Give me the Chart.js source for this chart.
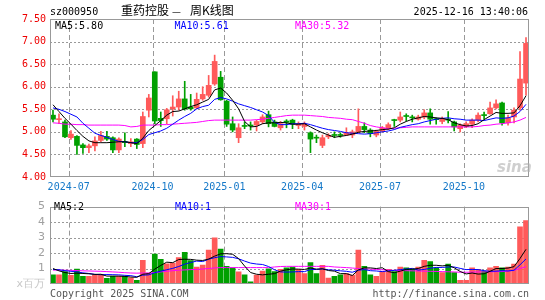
<!DOCTYPE html>
<html>
<head>
<meta charset="utf-8">
<script src="https://cdn.jsdelivr.net/npm/chart.js@4"></script>
<style>
html, body { margin: 0; padding: 0; background: #fff; }
#wrap { position: relative; width: 545px; height: 300px; }
#kline { position: absolute; left: 0; top: 0; }
#vol { position: absolute; left: 0; top: 195px; }
</style>
</head>
<body>
<div id="wrap">
  <canvas id="kline" width="545" height="195"></canvas>
  <canvas id="vol" width="545" height="105"></canvas>
</div>
<script>
// weekly k-line, sz000950
const open = [5.37,5.27,5.22,4.87,4.90,4.71,4.65,4.69,4.81,4.90, 4.87,4.60,4.79,4.74,4.84,4.74,5.48,6.33,5.30,5.29,
              5.51,5.55,5.73,5.55,5.53,5.73,5.81,6.06,6.21,5.68, 5.18,4.87,5.14,5.15,5.15,5.22,5.38,5.22,5.09,5.24,
              5.26,5.14,5.12,4.98,4.88,4.70,4.89,4.94,4.94,4.93, 4.93,5.00,5.12,5.04,4.93,5.02,5.07,5.27,5.26,5.36,
              5.33,5.28,5.33,5.42,5.29,5.23,5.28,5.22,5.07,5.12, 5.17,5.26,5.38,5.40,5.53,5.64,5.20,5.33,5.53,6.08];
const close = [5.28,5.29,4.89,4.95,4.70,4.65,4.69,4.80,4.92,4.84, 4.60,4.84,4.76,4.78,4.72,5.34,5.75,5.24,5.25,5.49,
               5.55,5.73,5.51,5.51,5.72,5.83,6.03,6.56,5.71,5.17, 5.04,5.09,5.12,5.13,5.23,5.33,5.18,5.12,5.18,5.21,
               5.17,5.17,5.17,4.84,4.86,4.87,4.92,4.92,4.92,4.98, 5.00,5.12,5.05,4.96,5.01,5.09,5.16,5.25,5.33,5.34,
               5.31,5.33,5.42,5.28,5.27,5.29,5.26,5.11,5.15,5.18, 5.26,5.37,5.36,5.53,5.62,5.20,5.31,5.48,6.17,6.96];
const high = [5.48,5.40,5.26,5.03,4.92,4.74,4.73,4.89,5.01,5.01, 4.89,4.87,4.98,4.85,4.85,5.44,5.83,6.33,5.44,5.52,
              5.80,5.90,6.12,5.83,5.86,6.00,6.25,6.70,6.34,5.70, 5.33,5.18,5.22,5.22,5.26,5.38,5.46,5.26,5.23,5.27,
              5.28,5.22,5.22,5.00,4.93,4.93,4.96,5.00,4.98,5.09, 5.04,5.51,5.20,5.07,5.04,5.12,5.20,5.28,5.44,5.40,
              5.37,5.37,5.49,5.51,5.31,5.33,5.45,5.24,5.18,5.22, 5.29,5.42,5.44,5.66,5.71,5.66,5.37,5.53,6.78,7.09];
const low = [5.22,5.18,4.87,4.83,4.50,4.52,4.54,4.58,4.78,4.81, 4.54,4.54,4.67,4.67,4.63,4.65,5.33,5.18,5.12,5.18,
             5.35,5.48,5.48,5.48,5.51,5.70,5.77,6.03,5.70,5.12, 5.00,4.76,5.07,5.04,5.02,5.18,5.11,5.11,5.04,5.09,
             5.07,5.07,5.04,4.54,4.76,4.65,4.85,4.87,4.88,4.92, 4.87,4.98,4.98,4.89,4.89,5.00,5.05,5.12,5.22,5.24,
             5.22,5.26,5.29,5.17,5.17,5.18,5.20,5.02,5.00,5.09, 5.09,5.22,5.28,5.39,5.51,5.15,5.15,5.20,5.48,5.81];
const ma5 = [5.60,5.45,5.30,5.17,5.03,4.90,4.80,4.76,4.76,4.76, 4.77,4.78,4.78,4.76,4.74,4.86,5.03,5.14,5.25,5.37,
             5.45,5.46,5.51,5.56,5.60,5.66,5.72,5.93,5.97,5.86, 5.70,5.51,5.23,5.11,5.12,5.18,5.20,5.20,5.21,5.20,
             5.17,5.17,5.18,5.11,5.04,4.98,4.93,4.88,4.90,4.92, 4.95,4.99,5.01,5.02,5.03,5.05,5.06,5.09,5.17,5.23,
             5.28,5.31,5.34,5.33,5.31,5.30,5.27,5.20,5.16,5.13, 5.14,5.18,5.27,5.35,5.43,5.41,5.41,5.42,5.58,5.80];
const ma10 = [5.53,5.50,5.45,5.39,5.33,5.19,5.08,4.97,4.92,4.88, 4.83,4.79,4.78,4.76,4.76,4.83,4.94,4.98,5.02,5.08,
              5.17,5.26,5.34,5.41,5.51,5.56,5.59,5.72,5.76,5.73, 5.68,5.62,5.58,5.54,5.49,5.44,5.36,5.21,5.16,5.16,
              5.18,5.18,5.19,5.16,5.12,5.08,5.05,5.03,5.01,4.98, 4.97,4.96,4.95,4.96,4.98,5.00,5.02,5.05,5.10,5.13,
              5.16,5.18,5.22,5.25,5.28,5.30,5.31,5.29,5.28,5.26, 5.26,5.26,5.25,5.28,5.31,5.30,5.31,5.35,5.45,5.61];
const ma30 = [5.20,5.19,5.17,5.17,5.16,5.16,5.15,5.15,5.15,5.15, 5.15,5.15,5.14,5.11,5.12,5.15,5.15,5.15,5.16,5.16,
              5.17,5.18,5.19,5.20,5.21,5.23,5.25,5.26,5.26,5.26, 5.26,5.26,5.26,5.26,5.27,5.28,5.30,5.32,5.34,5.36,
              5.37,5.37,5.37,5.36,5.35,5.34,5.32,5.31,5.30,5.28, 5.27,5.23,5.19,5.14,5.11,5.09,5.07,5.08,5.09,5.10,
              5.11,5.11,5.11,5.11,5.11,5.11,5.11,5.11,5.11,5.11, 5.11,5.12,5.14,5.15,5.17,5.18,5.20,5.22,5.26,5.32];

// volume, millions of shares
const volume = [0.60,0.60,0.80,0.56,0.96,0.50,0.50,0.60,0.60,0.36, 0.50,0.50,0.50,0.40,0.24,1.53,0.70,1.93,1.59,1.31,
                1.35,1.71,2.05,1.51,1.10,1.22,2.19,2.99,2.25,1.14, 1.04,0.78,0.60,0.14,0.58,0.84,0.98,0.80,0.94,1.04,
                1.10,0.94,0.68,1.39,0.68,1.20,0.38,0.50,0.60,0.68, 0.58,2.19,1.14,0.60,0.50,0.80,0.94,0.80,1.10,1.04,
                0.94,1.10,1.53,1.45,1.04,0.74,1.29,0.74,0.24,0.24, 1.04,0.94,0.84,1.04,1.14,1.04,1.10,1.29,3.69,4.10];
const vma5 = [1.00,0.85,0.74,0.68,0.70,0.68,0.66,0.62,0.63,0.51, 0.51,0.51,0.49,0.45,0.43,0.63,0.67,0.96,1.20,1.41,
              1.38,1.58,1.60,1.59,1.54,1.52,1.61,1.80,1.95,1.96, 1.92,1.64,1.16,0.74,0.63,0.59,0.63,0.67,0.83,0.92,
              0.97,0.96,0.94,1.03,0.96,0.98,0.87,0.83,0.67,0.67, 0.55,0.91,1.04,1.04,1.00,1.05,0.80,0.73,0.83,0.94,
              0.96,1.00,1.14,1.21,1.21,1.17,1.21,1.05,0.81,0.65, 0.71,0.64,0.66,0.82,1.00,1.00,1.03,1.12,1.65,2.24];
const vma10 = [0.94,0.92,0.86,0.82,0.78,0.72,0.68,0.62,0.60,0.61, 0.60,0.59,0.56,0.54,0.47,0.57,0.59,0.73,0.83,0.92,
               1.01,1.13,1.28,1.39,1.48,1.45,1.60,1.70,1.77,1.75, 1.72,1.63,1.48,1.35,1.29,1.26,1.13,0.92,0.78,0.77,
               0.78,0.80,0.80,0.93,0.94,0.98,0.92,0.89,0.85,0.82, 0.76,0.89,0.93,0.86,0.84,0.80,0.85,0.88,0.93,0.97,
               1.01,0.90,0.94,1.02,1.07,1.07,1.10,1.10,1.01,0.93, 0.94,0.93,0.86,0.82,0.83,0.86,0.84,0.89,1.24,1.62];
const vma30 = [0.90,0.90,0.89,0.88,0.87,0.85,0.84,0.83,0.82,0.80, 0.78,0.76,0.73,0.71,0.70,0.71,0.71,0.74,0.78,0.82,
               0.86,0.89,0.91,0.93,0.94,0.97,1.00,1.04,1.06,1.06, 1.06,1.06,1.06,1.06,1.06,1.06,1.06,1.10,1.13,1.14,
               1.14,1.14,1.14,1.14,1.14,1.14,1.14,1.10,1.08,1.06, 1.03,1.00,0.98,0.96,0.94,0.92,0.90,0.88,0.87,0.86,
               0.85,0.84,0.83,0.82,0.81,0.80,0.79,0.78,0.76,0.76, 0.77,0.78,0.78,0.79,0.80,0.80,0.84,0.88,1.00,1.12];

// first week of each labelled month
const tickIdx = [3, 17, 29, 42, 55, 69];
const tickLabels = ['2024-07', '2024-10', '2025-01', '2025-04', '2025-07', '2025-10'];

const RED = '#ff5a5a';
const GREEN = '#00a000';
const GRID = '#999999';
const MONO = 'DejaVu Sans Mono';

const n = open.length;
const colors = close.map((c, i) => c >= open[i] ? RED : GREEN);
const pts = arr => arr.map((v, i) => ({x: i, y: v}));

function line(arr, color) {
    return {type: 'line', data: pts(arr), borderColor: color, borderWidth: 1,
            pointRadius: 0, tension: 0, fill: false};
}

// dashed month lines and dotted value lines, placed from the chart's own scales
const gridLines = {
    id: 'gridLines',
    beforeDatasetsDraw(chart) {
        const {ctx, chartArea: a, scales} = chart;
        const ys = scales.y.ticks.map(t => t.value);
        const xs = tickIdx.map(v => v - 0.38);
        ctx.save();
        ctx.strokeStyle = GRID;
        ctx.lineWidth = 1;
        ctx.setLineDash([2, 2]);
        ys.forEach(v => {
            const y = Math.round(scales.y.getPixelForValue(v)) + 0.5;
            if (y <= a.top + 2 || y >= a.bottom - 2) return;
            ctx.beginPath();
            ctx.moveTo(a.left, y);
            ctx.lineTo(a.right, y);
            ctx.stroke();
        });
        ctx.setLineDash([5, 3]);
        xs.forEach(v => {
            const x = Math.round(scales.x.getPixelForValue(v)) + 0.5;
            ctx.beginPath();
            ctx.moveTo(x, a.top);
            ctx.lineTo(x, a.bottom);
            ctx.stroke();
        });
        ctx.restore();
    }
};

// frame round the plot area
const frame = {
    id: 'frame',
    afterDraw(chart) {
        const {ctx, chartArea: a} = chart;
        ctx.save();
        ctx.strokeStyle = '#999';
        ctx.lineWidth = 1;
        ctx.strokeRect(Math.round(a.left) + 0.5, Math.round(a.top) + 0.5,
                       Math.round(a.right - a.left) - 1, Math.round(a.bottom - a.top) - 1);
        ctx.restore();
    }
};

function texts(items) {
    return {
        id: 'texts',
        afterDraw(chart) {
            const ctx = chart.ctx;
            ctx.save();
            ctx.textBaseline = 'alphabetic';
            items.forEach(t => {
                ctx.font = t.font || ('10px ' + MONO);
                ctx.fillStyle = t.color || '#000';
                ctx.textAlign = t.align || 'left';
                ctx.fillText(t.text, t.x, t.y);
            });
            ctx.restore();
        }
    };
}

const xAxis = (showLabels, h) => ({
    type: 'linear', min: -0.5, max: n - 0.5, bounds: 'data', offset: false,
    afterBuildTicks: s => { s.ticks = tickIdx.map(v => ({value: v - 0.38})); },
    afterFit: s => { s.height = h; },
    ticks: {display: showLabels, autoSkip: false, maxRotation: 0, padding: 4,
            color: '#1478c8', font: {family: MONO, size: 10},
            callback: (v, i) => tickLabels[i]},
    grid: {display: false, drawTicks: false},
    border: {display: false}
});

const last = n - 1;
const CJK = '12px "Noto Sans CJK SC"';

new Chart(document.getElementById('kline'), {
    type: 'bar',
    data: {
        datasets: [
            line(ma5, '#000'),
            line(ma10, '#0000ff'),
            line(ma30, '#ff00ff'),
            {data: pts(open).map((p, i) => ({x: i, y: [Math.min(open[i], close[i]), Math.max(open[i], close[i])]})),
             backgroundColor: colors, barThickness: 5, minBarLength: 1, grouped: false},
            {data: pts(open).map((p, i) => ({x: i, y: [low[i], high[i]]})),
             backgroundColor: colors, barThickness: 1, grouped: false}
        ]
    },
    options: {
        responsive: false, animation: false, devicePixelRatio: 1, events: [],
        layout: {padding: {top: 19, right: 16, left: 0, bottom: 0}},
        plugins: {legend: {display: false}, tooltip: {enabled: false}},
        scales: {
            x: xAxis(true, 18),
            y: {
                min: 4, max: 7.5,
                afterFit: s => { s.width = 50; },
                ticks: {stepSize: 0.5, autoSkip: false, padding: 4, color: '#ee0000',
                        font: {family: MONO, size: 10}, callback: v => v.toFixed(2)},
                grid: {display: false, drawTicks: false},
                border: {display: false}
            }
        }
    },
    plugins: [gridLines, frame, texts([
        {text: 'sz000950', x: 50, y: 15},
        {text: '重药控股', x: 121, y: 14.5, font: CJK},
        {text: '—', x: 176.5, y: 14.5, font: '10px "Noto Sans CJK SC"', align: 'center'},
        {text: '周K线图', x: 190, y: 14.5, font: CJK},
        {text: '2025-12-16 13:40:06', x: 528, y: 15, align: 'right'},
        {text: 'MA5:' + ma5[last].toFixed(2), x: 55, y: 28.5},
        {text: 'MA10:' + ma10[last].toFixed(2), x: 174.5, y: 28.5, color: '#0000ff'},
        {text: 'MA30:' + ma30[last].toFixed(2), x: 295, y: 28.5, color: '#ff00ff'},
        {text: 'sina', x: 497, y: 172, color: 'rgba(175,175,175,0.6)', font: 'italic bold 15px "DejaVu Sans"'}
    ])]
});

new Chart(document.getElementById('vol'), {
    type: 'bar',
    data: {
        datasets: [
            line(vma5, '#000'),
            line(vma10, '#0000ff'),
            line(vma30, '#ff00ff'),
            {data: pts(volume), backgroundColor: colors, barThickness: 5, grouped: false}
        ]
    },
    options: {
        responsive: false, animation: false, devicePixelRatio: 1, events: [],
        layout: {padding: {top: 6, right: 16, left: 0, bottom: 0}},
        plugins: {legend: {display: false}, tooltip: {enabled: false}},
        scales: {
            x: xAxis(false, 16),
            y: {
                min: 0, max: 5,
                afterFit: s => { s.width = 50; },
                ticks: {stepSize: 1, autoSkip: false, padding: 5, font: {family: 'DejaVu Sans', size: 11},
                        color: c => c.tick && c.tick.value === 0 ? '#c8c8c8' : '#a0a0a0',
                        callback: v => v === 0 ? 'x百万' : v},
                grid: {display: false, drawTicks: false},
                border: {display: false}
            }
        }
    },
    plugins: [gridLines, frame, texts([
        {text: 'MA5:' + Math.floor(vma5[last]), x: 54, y: 15.3},
        {text: 'MA10:' + Math.floor(vma10[last]), x: 175, y: 15.3, color: '#0000ff'},
        {text: 'MA30:' + Math.floor(vma30[last]), x: 295, y: 15.3, color: '#ff00ff'},
        {text: 'Copyright 2025 SINA.COM', x: 50, y: 101.5, color: '#555'},
        {text: 'http://finance.sina.com.cn', x: 529, y: 101.5, color: '#555', align: 'right'}
    ])]
});
</script>
</body>
</html>
